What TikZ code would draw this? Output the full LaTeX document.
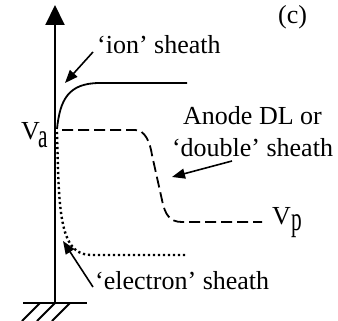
\documentclass[tikz,border=0pt]{standalone}
\usepackage{fontspec}
\usepackage{graphicx}
\setmainfont{Liberation Serif}
\usetikzlibrary{arrows.meta}
\newcommand{\subsc}[1]{\scalebox{0.82}[1.3]{#1}}
\begin{document}
\begin{tikzpicture}[x=1pt,y=-1pt,
  lbl/.style={inner sep=0pt,font=\fontsize{26}{32}\selectfont},
  axisline/.style={line width=2pt},
  solidcurve/.style={line width=1.8pt},
  dashcurve/.style={line width=1.8pt,dash pattern=on 11pt off 5pt},
  dotcurve/.style={line width=2.4pt,dash pattern=on 2.2pt off 2.8pt},
  pointer/.style={line width=1.6pt,-{Triangle[length=13pt,width=10pt]}},
  hatch/.style={line width=1.8pt}]
\useasboundingbox (0,0) rectangle (338,321);
% axis
\coordinate (base) at (55,303);
\coordinate (top) at (55,5);
\draw[axisline,-{Triangle[length=20pt,width=19pt]}] (base) -- (top);
% ground
\coordinate (gl) at (23,303);
\coordinate (gr) at (87,303);
\draw[axisline] (gl) -- (gr);
\coordinate (h1a) at (40,303); \coordinate (h1b) at (22,321);
\coordinate (h2a) at (55,303); \coordinate (h2b) at (37,321);
\coordinate (h3a) at (70,303); \coordinate (h3b) at (52,321);
\draw[hatch] (h1a) -- (h1b) (h2a) -- (h2b) (h3a) -- (h3b);
% curves
\coordinate (va) at (57,129);
\coordinate (ionend) at (187,83);
\draw[solidcurve] (va) .. controls (60,100) and (68,83) .. (100,83) -- (ionend);
\coordinate (dlstart) at (62,130);
\coordinate (dlend) at (262,222);
\draw[dashcurve] (dlstart) -- (135,130) .. controls (145,130) and (150,142) .. (152,155)
  -- (162,200) .. controls (165,215) and (170,222) .. (182,222) -- (dlend);
\coordinate (elstart) at (57,132);
\coordinate (elend) at (187,255);
\draw[dotcurve] (elstart) -- (58,170) .. controls (60,230) and (66,255) .. (92,255) -- (elend);
% labels
\node[lbl,anchor=base west] (c) at (278,24) {(c)};
\node[lbl,anchor=base west] (ion) at (97,54) {‘ion’ sheath};
\node[lbl,anchor=base] (anode) at (252.5,125) {Anode DL or};
\node[lbl,anchor=base] (double) at (252.5,157) {‘double’ sheath};
\node[lbl,anchor=base west] (elec) at (95,289) {‘electron’ sheath};
\node[lbl,anchor=base west] (Va) at (21,140) {V};
\node[lbl,anchor=base west] (Vasub) at (38,148) {\subsc{a}};
\node[lbl,anchor=base west] (Vp) at (272,225) {V};
\node[lbl,anchor=base west] (Vpsub) at (291,230) {\subsc{p}};
% pointers
\coordinate (iontail) at (93,52);
\coordinate (iontip) at (65,83);
\draw[pointer] (iontail) -- (iontip);
\coordinate (dltail) at (232,161);
\coordinate (dltip) at (172,177);
\draw[pointer] (dltail) -- (dltip);
\coordinate (eltail) at (93,287);
\coordinate (eltip) at (63,241);
\draw[pointer] (eltail) -- (eltip);
\end{tikzpicture}
\end{document}
